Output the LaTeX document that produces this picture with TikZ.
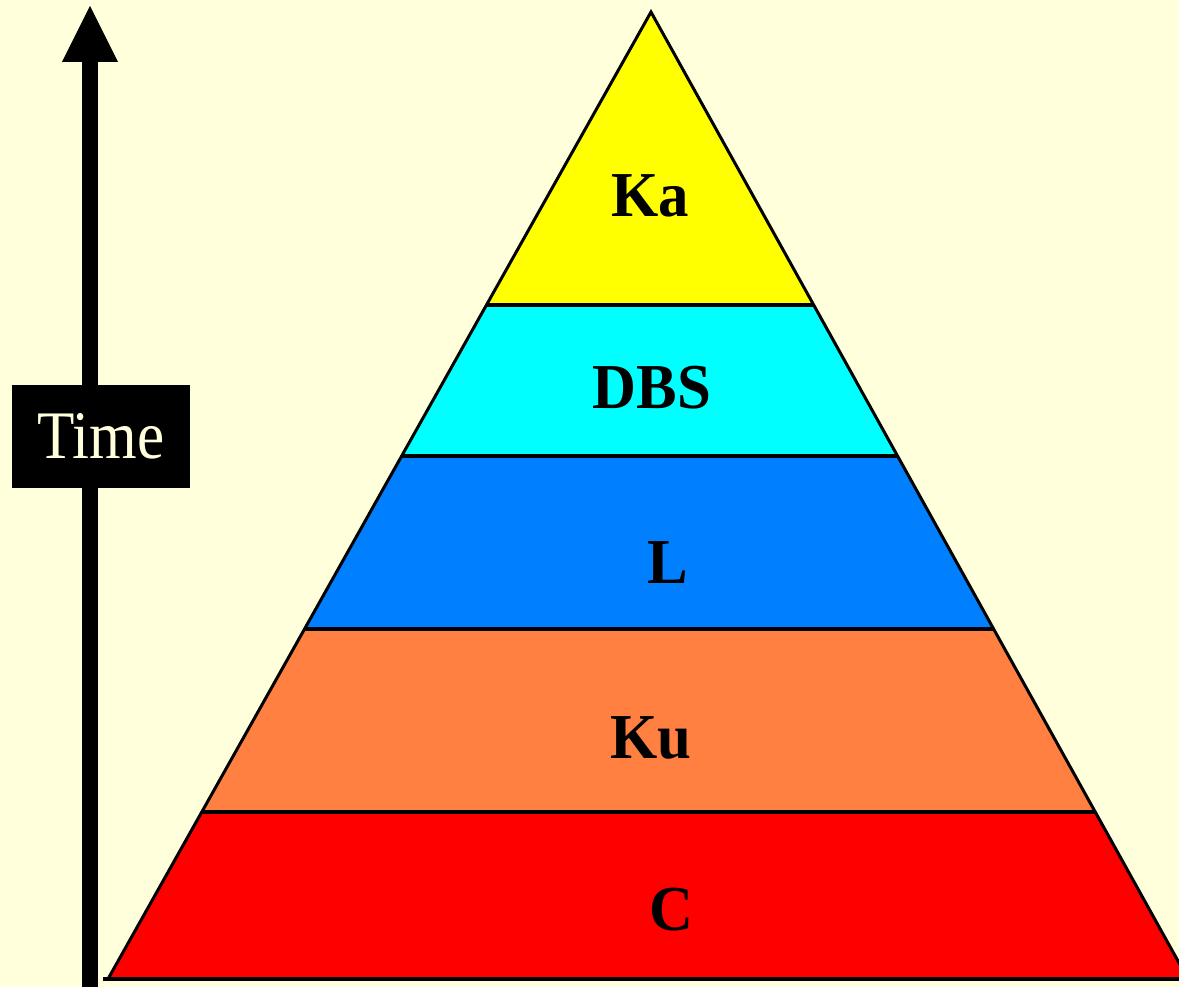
\documentclass[tikz,border=0pt]{standalone}
\usepackage{fontspec}
\setmainfont{Liberation Serif}
\definecolor{bg}{HTML}{FFFFDB}
\definecolor{kaclr}{HTML}{FFFF00}
\definecolor{dbsclr}{HTML}{00FFFF}
\definecolor{lclr}{HTML}{0080FF}
\definecolor{kuclr}{HTML}{FF8040}
\definecolor{cclr}{HTML}{FF0000}
\begin{document}
\begin{tikzpicture}[x=1pt,y=-1pt,
  lbl/.style={font=\fontsize{64}{64}\selectfont\bfseries, inner sep=0pt, anchor=base},
  timebox/.style={fill=black, text=bg, minimum width=178pt, minimum height=103pt, inner sep=0pt,
    font=\fontsize{68}{68}\selectfont},
  sepline/.style={line width=4pt}]
\fill[bg] (0,0) rectangle (1179,987);
\useasboundingbox (0,0) rectangle (1179,987);
\coordinate (apex) at (651,12);
\coordinate (bl) at (108,979);
\coordinate (br) at (1188,979);
\begin{scope}
  \clip (apex) -- (bl) -- (br) -- cycle;
  \fill[kaclr] (0,0) rectangle (1200,305);
  \fill[dbsclr] (0,305) rectangle (1200,456);
  \fill[lclr] (0,456) rectangle (1200,629);
  \fill[kuclr] (0,629) rectangle (1200,812);
  \fill[cclr] (0,812) rectangle (1200,990);
  \foreach \yy in {305,456,629,812} \draw[sepline] (0,\yy) -- (1200,\yy);
\end{scope}
\draw[line width=3pt, line join=miter] (bl) -- (apex) -- (br);
\draw[sepline] (103,979) -- (1200,979);
% time arrow
\draw[line width=16pt] (90,990) -- (90,60);
\fill (62,62) -- (90,6) -- (118,62) -- cycle;
\node[timebox] (time) at (101,436.5) {\scalebox{0.9}[1]{Time}};
% labels
\node[lbl] (ka) at (650,217) {\scalebox{0.95}[1]{Ka}};
\node[lbl] (dbs) at (652,408) {\scalebox{0.95}[1]{DBS}};
\node[lbl] (l) at (668,583) {\scalebox{0.95}[1]{L}};
\node[lbl] (ku) at (651,758) {\scalebox{0.95}[1]{Ku}};
\node[lbl] (c) at (671,930) {\scalebox{0.95}[1]{C}};
\end{tikzpicture}
\end{document}
